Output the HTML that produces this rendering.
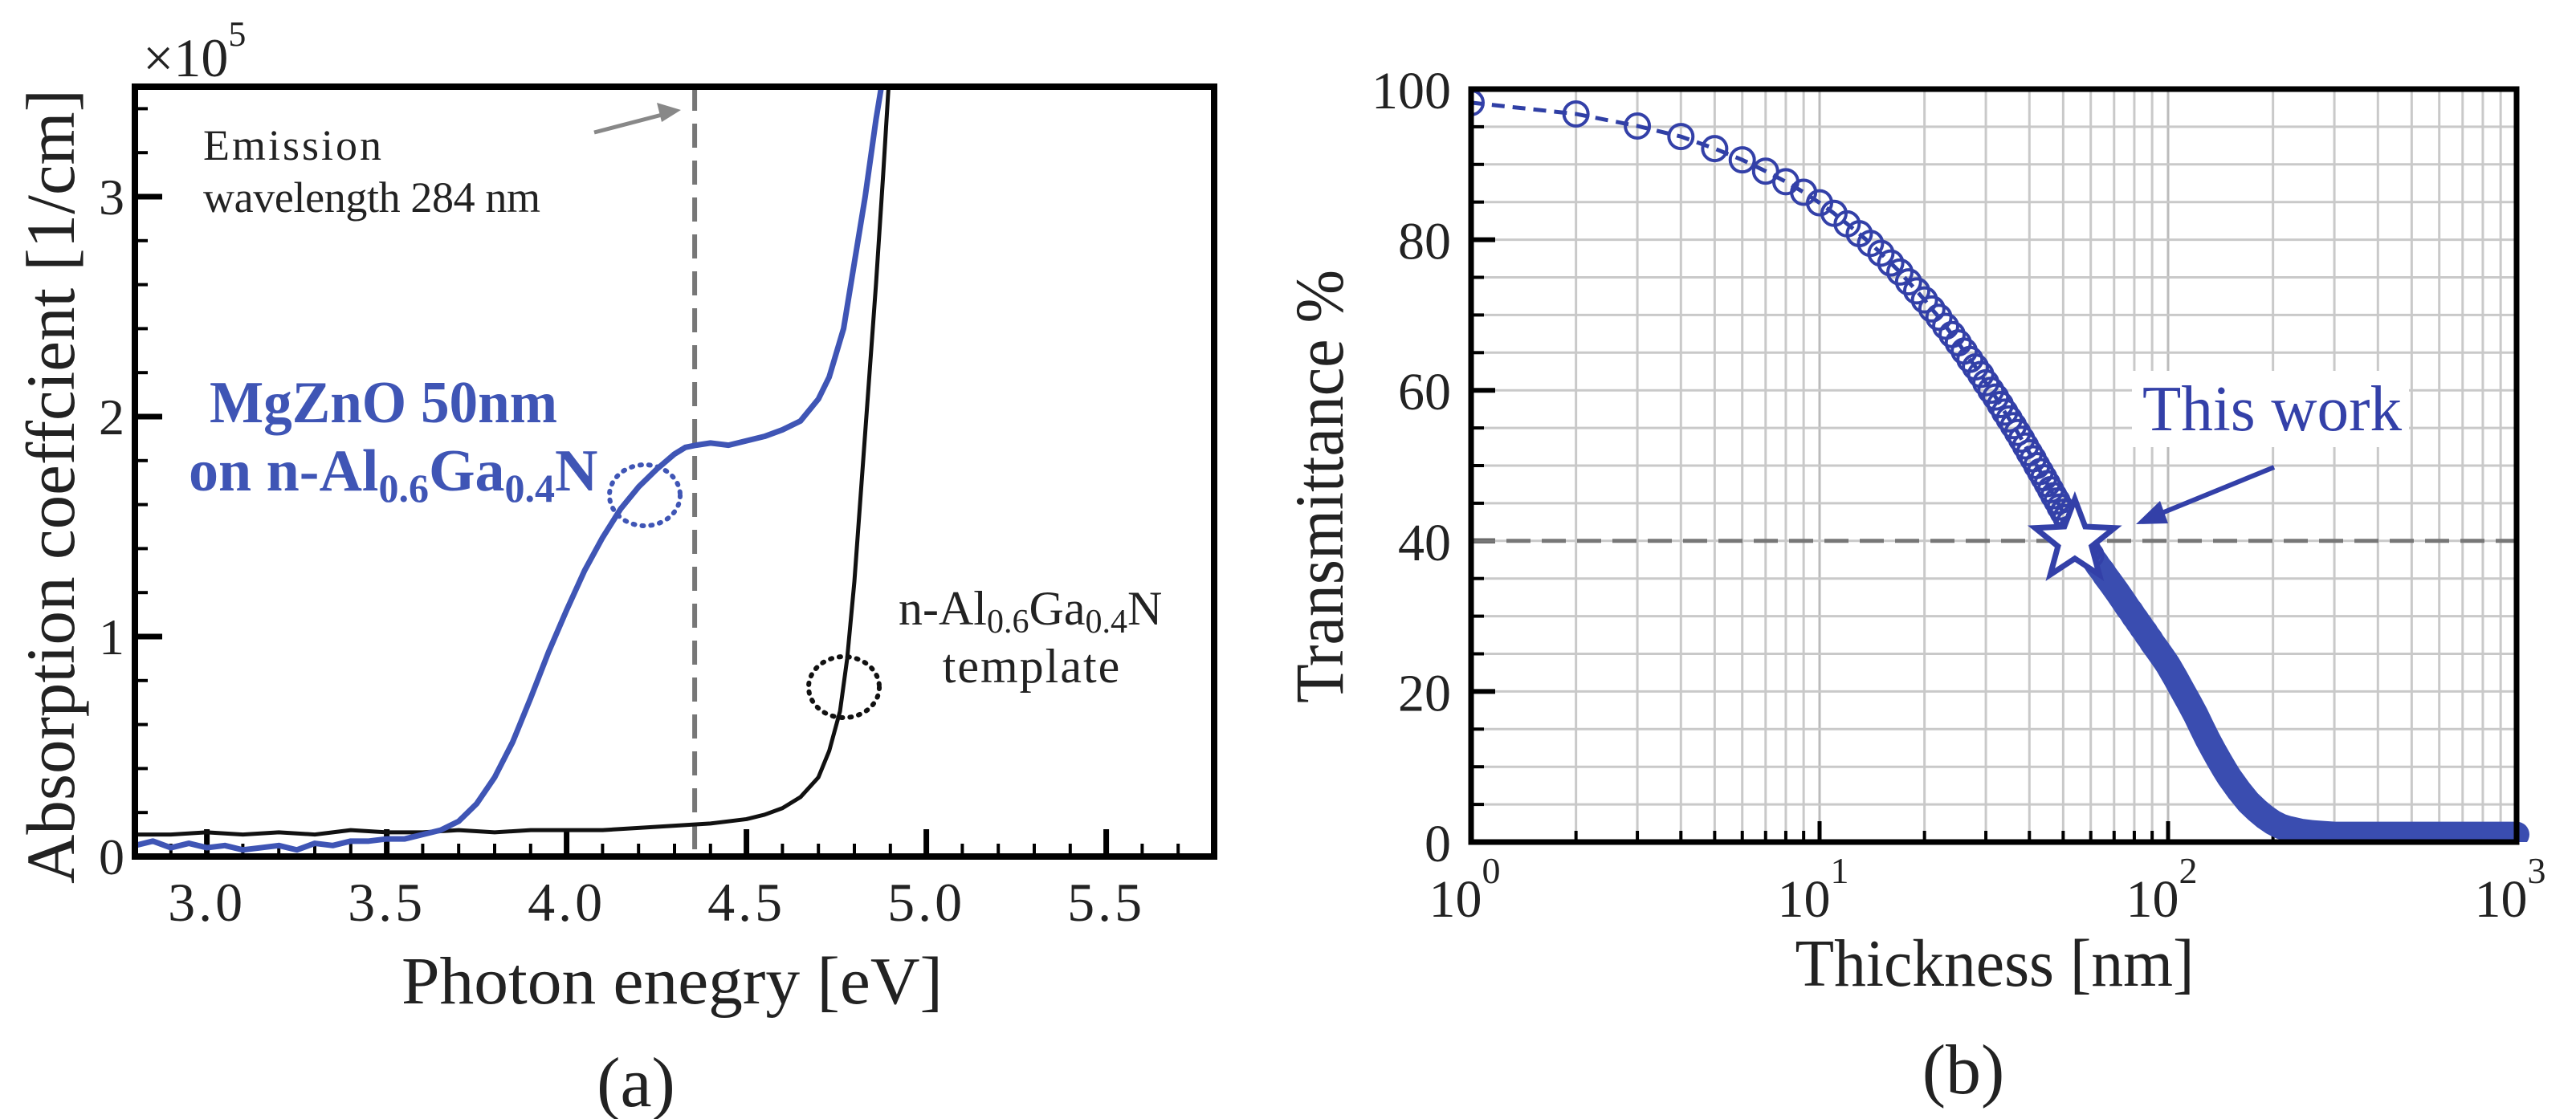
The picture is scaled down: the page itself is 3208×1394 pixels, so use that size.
<!DOCTYPE html>
<html><head><meta charset="utf-8"><style>
html,body{margin:0;padding:0;background:#fff;}
svg{display:block;}
text{font-family:"Liberation Serif",serif;}
</style></head><body>
<svg id="fig" width="3208" height="1394" viewBox="0 0 3208 1394" xmlns="http://www.w3.org/2000/svg">
<g id="pa"></g>
<g id="pb"></g>
</svg>
<script>
// ---------- Panel (a) data ----------
const blueE = [2.80,2.85,2.90,2.95,3.00,3.05,3.10,3.15,3.20,3.25,3.30,3.35,3.40,3.45,3.50,3.55,3.60,3.65,3.70,3.75,3.80,3.85,3.90,3.95,4.00,4.05,4.10,4.15,4.20,4.25,4.30,4.33,4.36,4.40,4.45,4.50,4.55,4.60,4.65,4.70,4.73,4.77,4.80,4.83,4.86,4.875];
const blueA = [0.05,0.07,0.04,0.06,0.04,0.05,0.03,0.04,0.05,0.03,0.06,0.05,0.07,0.07,0.08,0.08,0.10,0.12,0.16,0.24,0.36,0.52,0.72,0.93,1.12,1.30,1.45,1.58,1.68,1.76,1.83,1.86,1.87,1.88,1.87,1.89,1.91,1.94,1.98,2.08,2.18,2.40,2.70,3.00,3.35,3.50];
const blackE = [2.80,2.90,3.00,3.10,3.20,3.30,3.40,3.50,3.60,3.70,3.80,3.90,4.00,4.10,4.20,4.30,4.40,4.50,4.55,4.60,4.65,4.70,4.73,4.76,4.78,4.80,4.82,4.84,4.86,4.88,4.895];
const blackA = [0.10,0.10,0.11,0.10,0.11,0.10,0.12,0.11,0.11,0.12,0.11,0.12,0.12,0.12,0.13,0.14,0.15,0.17,0.19,0.22,0.27,0.36,0.48,0.66,0.90,1.25,1.70,2.15,2.60,3.10,3.50];
const aXTicks = [3.0,3.5,4.0,4.5,5.0,5.5];
const aXTickLabels = ["3.0","3.5","4.0","4.5","5.0","5.5"];
const aYTicks = [0,1,2,3];
const aYTickLabels = ["0","1","2","3"];
const emissionE = [4.356];

// ---------- Panel (b) data ----------
const thick = [1,2,3,4,5,6,7,8,9,10,11,12,13,14,15,16,17,18,19,20,21,22,23,24,25,26,27,28,29,30,31,32,33,34,35,36,37,38,39,40,41,42,43,44,45,46,47,48,49,50,51,52,53,54,55,56,57,58,59,60,61,62,63,64,65,66,67,68,69,70,71,72,73,74,75,76,77,78,79,80,81,82,83,84,85,86,87,88,89,90,91,92,93,94,95,96,97,98,99,100,105,110,115,120,125,130,135,140,145,150,160,170,180,190,200,210,220,230,240,260,280,300,350,400,450,500,600,700,800,900,1000];
const trans = [98.2,96.7,95.1,93.7,92.1,90.6,89.1,87.7,86.3,84.9,83.5,82.1,80.8,79.5,78.2,76.9,75.7,74.4,73.2,72.0,70.8,69.7,68.5,67.4,66.3,65.2,64.1,63.1,62.1,61.0,60.0,59.1,58.1,57.1,56.2,55.3,54.4,53.5,52.6,51.7,50.9,50.0,49.2,48.4,47.6,46.8,46.0,45.3,44.5,43.8,43.1,42.4,41.7,41.0,40.5,40.0,39.5,39.0,38.6,38.1,37.6,37.2,36.7,36.3,35.9,35.4,35.0,34.6,34.2,33.8,33.4,33.0,32.6,32.2,31.8,31.4,31.0,30.7,30.3,29.9,29.6,29.2,28.9,28.5,28.2,27.9,27.5,27.2,26.9,26.5,26.2,25.9,25.6,25.3,25.0,24.7,24.4,24.1,23.8,23.5,21.8,20.1,18.5,16.9,15.2,13.6,12.2,10.9,9.7,8.6,6.8,5.3,4.2,3.3,2.6,2.1,1.8,1.6,1.4,1.2,1.1,1.0,1.0,1.0,1.0,1.0,1.0,1.0,1.0,1.0,1.0];
const bYTicks = [0,20,40,60,80,100];
const bYTickLabels = ["0","20","40","60","80","100"];
const bXDecades = [0,1,2,3];
const bXDecadeLabels = ["0","1","2","3"];
const refLevel = [40];
const starThick = [54];
const starTrans = [40];

const NS = "http://www.w3.org/2000/svg";
function mk(parent, tag, attrs, txt){
  const el = document.createElementNS(NS, tag);
  for (const k in attrs) el.setAttribute(k, attrs[k]);
  if (txt !== undefined) el.textContent = txt;
  parent.appendChild(el);
  return el;
}

// ---------- Panel (a) ----------
const pa = document.getElementById('pa');
const aL=168, aR=1512, aT=108, aB=1067;
const ax = e => aL + (e-2.8)/(5.8-2.8)*(aR-aL);
const ay = v => aB - v/3.5*(aB-aT);

const clipA = mk(pa,'clipPath',{id:'clipA'});
mk(clipA,'rect',{x:aL,y:aT,width:aR-aL,height:aB-aT});

for (let i=0;i<=30;i++){
  const e = 2.8 + i*0.1;
  const isMajor = Math.abs((e*2)-Math.round(e*2))<1e-6;
  const t = mk(pa,'line',{x1:ax(e),x2:ax(e),y1:aB,y2:aB-(isMajor?34:16),stroke:'#000','stroke-width':isMajor?7:4});
  
  
}
for (let i=0;i<=17;i++){
  const v = i*0.2;
  const isMajor = Math.abs(v-Math.round(v))<1e-6;
  const t = mk(pa,'line',{x1:aL,x2:aL+(isMajor?34:16),y1:ay(v),y2:ay(v),stroke:'#000','stroke-width':isMajor?7:4});
  
  
}
aXTicks.forEach((e,i)=>{
  const t = mk(pa,'text',{x:ax(e),y:1147,'font-size':68,'text-anchor':'middle','letter-spacing':4,fill:'#222'},aXTickLabels[i]);
  
  
});
aYTicks.forEach((v,i)=>{
  const t = mk(pa,'text',{x:155,y:ay(v)+22,'font-size':64,'text-anchor':'end',fill:'#222'},aYTickLabels[i]);
  
  
});

emissionE.forEach(e=>{
  const d = mk(pa,'line',{x1:ax(e),x2:ax(e),y1:aT,y2:aB,stroke:'#777','stroke-width':6,'stroke-dasharray':'30 16'});
  
  
});

const gA = mk(pa,'g',{'clip-path':'url(#clipA)'});
const blk = mk(gA,'polyline',{points:blackE.map((e,i)=>ax(e)+','+ay(blackA[i])).join(' '),fill:'none',stroke:'#111','stroke-width':5,'stroke-linejoin':'round'});


const blu = mk(gA,'polyline',{points:blueE.map((e,i)=>ax(e)+','+ay(blueA[i])).join(' '),fill:'none',stroke:'#3f55b5','stroke-width':7,'stroke-linejoin':'round'});



const fa = mk(pa,'rect',{x:aL,y:aT,width:aR-aL,height:aB-aT,fill:'none',stroke:'#000','stroke-width':8});



const el1 = mk(pa,'ellipse',{cx:803,cy:617,rx:44,ry:38,fill:'none',stroke:'#3f55b5','stroke-width':6,'stroke-dasharray':'2 9','stroke-linecap':'round'});


const el2 = mk(pa,'ellipse',{cx:1051,cy:856,rx:44,ry:38,fill:'none',stroke:'#111','stroke-width':6,'stroke-dasharray':'2 9','stroke-linecap':'round'});



const arr = mk(pa,'line',{x1:740,y1:165,x2:832,y2:141,stroke:'#888','stroke-width':5});


const arrh = mk(pa,'polygon',{points:'848,137 818,128 824,152',fill:'#888'});



let t;
t = mk(pa,'text',{x:253,y:199,'font-size':54,fill:'#222','letter-spacing':3},'Emission');
 
t = mk(pa,'text',{x:253,y:264,'font-size':54,fill:'#222','letter-spacing':3,textLength:423,lengthAdjust:'spacing'},'wavelength 284 nm');
 

t = mk(pa,'text',{x:261,y:526,'font-size':74,'font-weight':'bold',fill:'#3f55b5',textLength:433,lengthAdjust:'spacingAndGlyphs'},'MgZnO 50nm');
 
t = mk(pa,'text',{x:235,y:611,'font-size':74,'font-weight':'bold',fill:'#3f55b5'});
 
t.innerHTML = 'on n-Al<tspan font-size="50" dy="14">0.6</tspan><tspan dy="-14">Ga</tspan><tspan font-size="50" dy="14">0.4</tspan><tspan dy="-14">N</tspan>';

t = mk(pa,'text',{x:1119,y:778,'font-size':60,fill:'#222'});
 
t.innerHTML = 'n-Al<tspan font-size="42" dy="10">0.6</tspan><tspan dy="-10">Ga</tspan><tspan font-size="42" dy="10">0.4</tspan><tspan dy="-10">N</tspan>';
t = mk(pa,'text',{x:1285,y:850,'font-size':60,fill:'#222','text-anchor':'middle','letter-spacing':2},'template');
 

t = mk(pa,'text',{x:178,y:95,'font-size':68,fill:'#222'});
 
t.innerHTML = '×10<tspan font-size="44" dy="-38">5</tspan>';

t = mk(pa,'text',{x:0,y:0,'font-size':86,fill:'#222','text-anchor':'middle',transform:'translate(92,606) rotate(-90)',textLength:990,lengthAdjust:'spacingAndGlyphs'},'Absorption coeffcient [1/cm]');
 
t = mk(pa,'text',{x:837,y:1250,'font-size':84,fill:'#222','text-anchor':'middle',textLength:674,lengthAdjust:'spacingAndGlyphs'},'Photon enegry [eV]');
 
t = mk(pa,'text',{x:792,y:1378,'font-size':88,fill:'#222','text-anchor':'middle'},'(a)');
 

// ---------- Panel (b) ----------
const pb = document.getElementById('pb');
const bL=1832, bR=3134, bT=111, bB=1049;
const bx = d => bL + Math.log10(d)/3*(bR-bL);
const by = v => bB - v/100*(bB-bT);

for (let dec=0; dec<3; dec++){
  for (let m=2; m<=9; m++){
    const d = m*Math.pow(10,dec);
    const g = mk(pb,'line',{x1:bx(d),x2:bx(d),y1:bT,y2:bB,stroke:'#c9c9c9','stroke-width':3});
    
    
    const tk = mk(pb,'line',{x1:bx(d),x2:bx(d),y1:bB,y2:bB-14,stroke:'#000','stroke-width':4});
    
    
  }
}
for (const dd of [10,100]){
  const g = mk(pb,'line',{x1:bx(dd),x2:bx(dd),y1:bT,y2:bB,stroke:'#bbb','stroke-width':3});
  
  
  const tk = mk(pb,'line',{x1:bx(dd),x2:bx(dd),y1:bB,y2:bB-26,stroke:'#000','stroke-width':5});
  
  
}
for (let v=5; v<100; v+=5){
  const g = mk(pb,'line',{x1:bL,x2:bR,y1:by(v),y2:by(v),stroke:'#c9c9c9','stroke-width':3});
  
  
  const major = v%20===0;
  const tk = mk(pb,'line',{x1:bL,x2:bL+(major?30:16),y1:by(v),y2:by(v),stroke:'#000','stroke-width':major?6:4});
  
  
}
refLevel.forEach(v=>{
  const r = mk(pb,'line',{x1:bL,x2:bR,y1:by(v),y2:by(v),stroke:'#777','stroke-width':5,'stroke-dasharray':'30 14'});
  
  
});

const clipB = mk(pb,'clipPath',{id:'clipB'});
mk(clipB,'rect',{x:bL,y:bT-20,width:bR-bL+20,height:bB-bT+20});
const gB = mk(pb,'g',{'clip-path':'url(#clipB)'});
const ln = mk(gB,'polyline',{points:thick.map((d,i)=>bx(d)+','+by(trans[i])).join(' '),fill:'none',stroke:'#2f3fa5','stroke-width':5,'stroke-dasharray':'16 10'});


const bandIdx = thick.map((d,i)=>i).filter(i=>thick[i]>=55);
const band = mk(gB,'polyline',{points:bandIdx.map(i=>bx(thick[i])+','+by(trans[i])).join(' '),fill:'none',stroke:'#3a4db0','stroke-width':32,'stroke-linejoin':'round','stroke-linecap':'round'});


thick.forEach((d,i)=>{
  if (d>60) return;
  const c = mk(gB,'circle',{cx:bx(d),cy:by(trans[i]),r:15,fill:'none',stroke:'#3340a8','stroke-width':4});
  
  
});

const fb = mk(pb,'rect',{x:bL,y:bT,width:bR-bL,height:bB-bT,fill:'none',stroke:'#000','stroke-width':7});



starThick.forEach((d,i)=>{
  const cx=bx(d), cy=by(starTrans[i]); let pts=[];
  for (let k=0;k<10;k++){ const r=k%2?22:52; const a=-Math.PI/2+k*Math.PI/5; pts.push((cx+r*Math.cos(a)).toFixed(1)+','+(cy+r*Math.sin(a)).toFixed(1)); }
  const s = mk(pb,'polygon',{points:pts.join(' '),fill:'#fff',stroke:'#3340a8','stroke-width':7,'stroke-linejoin':'miter'});
  
  
});
const ar2 = mk(pb,'line',{x1:2832,y1:582,x2:2690,y2:640,stroke:'#3340a8','stroke-width':6});


const ar2h = mk(pb,'polygon',{points:'2660,653 2690,624 2700,652',fill:'#3340a8'});


const twbg = mk(pb,'rect',{x:2655,y:462,width:345,height:95,fill:'#fff'});


t = mk(pb,'text',{x:2668,y:536,'font-size':80,fill:'#3340a8',textLength:323,lengthAdjust:'spacingAndGlyphs'},'This work');
 

bYTicks.forEach((v,i)=>{
  const tt = mk(pb,'text',{x:1807,y:by(v)+24,'font-size':66,'text-anchor':'end',fill:'#222'},bYTickLabels[i]);
  
  
});
bXDecades.forEach((p,i)=>{
  const tt = mk(pb,'text',{x:bx(Math.pow(10,p))-8,y:1142,'font-size':66,'text-anchor':'middle',fill:'#222'});
  
  
  tt.innerHTML = '10<tspan font-size="46" dy="-42">'+bXDecadeLabels[i]+'</tspan>';
});
t = mk(pb,'text',{x:0,y:0,'font-size':86,fill:'#222','text-anchor':'middle',transform:'translate(1672,606) rotate(-90)',textLength:540,lengthAdjust:'spacingAndGlyphs'},'Transmittance %');
 
t = mk(pb,'text',{x:2484,y:1228,'font-size':84,fill:'#222','text-anchor':'middle',textLength:497,lengthAdjust:'spacingAndGlyphs'},'Thickness [nm]');
 
t = mk(pb,'text',{x:2445,y:1362,'font-size':88,fill:'#222','text-anchor':'middle'},'(b)');
 
</script>
</body></html>
